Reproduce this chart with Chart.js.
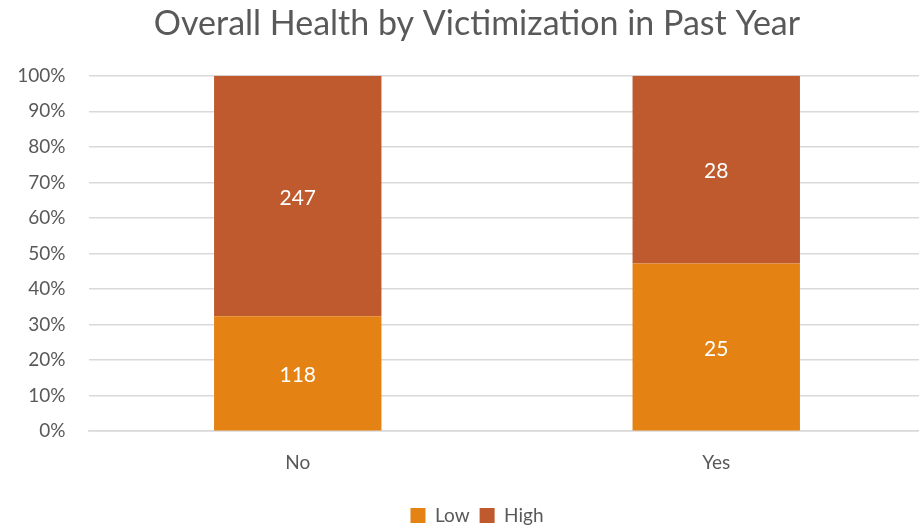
<!DOCTYPE html>
<html>
<head>
<meta charset="utf-8">
<script src="https://cdn.jsdelivr.net/npm/chart.js@4"></script>
<style>
  html, body { margin: 0; padding: 0; background: #fff; overflow: hidden; }
  #wrap { width: 919px; height: 527px; overflow: hidden; }
</style>
</head>
<body>
<div id="wrap"><canvas id="chart" width="954" height="537"></canvas></div>
<script>
const categories = ["No", "Yes"];
const lowCounts = [118, 25];
const highCounts = [247, 28];
const seriesNames = ["Low", "High"];
const seriesColors = ["#E48314", "#BE5A2D"];

const totals = categories.map((c, i) => lowCounts[i] + highCounts[i]);
const counts = [lowCounts, highCounts];
const FONT = "Lato, 'Open Sans', sans-serif";

// draws the count in the middle of each segment
const barLabels = {
  id: "barLabels",
  afterDatasetsDraw(chart) {
    const ctx = chart.ctx;
    ctx.save();
    ctx.fillStyle = "#ffffff";
    ctx.font = "21px " + FONT;
    ctx.textAlign = "center";
    ctx.textBaseline = "middle";
    chart.data.datasets.forEach((ds, d) => {
      chart.getDatasetMeta(d).data.forEach((bar, i) => {
        const mid = (bar.y + bar.base) / 2;
        ctx.fillText(String(counts[d][i]), bar.x, mid + 2);
      });
    });
    ctx.restore();
  }
};

new Chart(document.getElementById("chart"), {
  type: "bar",
  data: {
    labels: categories,
    datasets: counts.map((arr, d) => ({
      label: seriesNames[d],
      data: arr.map((v, i) => v / totals[i]),
      backgroundColor: seriesColors[d],
      borderWidth: 0,
      categoryPercentage: 1,
      barPercentage: 0.4
    }))
  },
  plugins: [barLabels],
  options: {
    responsive: false,
    animation: false,
    events: [],
    layout: { padding: { left: 28.5, right: 28.5, top: 4, bottom: 2 } },
    plugins: {
      title: {
        display: true,
        text: "Overall Health by Victimization in Past Year",
        color: "#595959",
        font: { family: FONT, size: 34, weight: "normal" },
        padding: { top: 0, bottom: 31 }
      },
      legend: {
        position: "bottom",
        labels: {
          color: "#595959",
          font: { family: FONT, size: 19 },
          boxWidth: 15,
          boxHeight: 15,
          padding: 10
        }
      },
      tooltip: { enabled: false }
    },
    scales: {
      x: {
        stacked: true,
        grid: { display: false },
        border: { color: "#d9d9d9", width: 1.5 },
        ticks: {
          color: "#595959",
          font: { family: FONT, size: 19 },
          padding: 12
        },
        afterFit: (scale) => { scale.height += 10; }
      },
      y: {
        stacked: true,
        min: 0,
        max: 1,
        border: { display: false },
        grid: { color: "#d9d9d9", lineWidth: 1.5, drawTicks: false },
        ticks: {
          stepSize: 0.1,
          color: "#595959",
          font: { family: FONT, size: 19 },
          padding: 23,
          callback: (v) => Math.round(v * 100) + "%"
        },
        afterFit: (scale) => {
          scale.width = 60;
          // labels stick out past the narrowed axis box, so don't clip them
          scale._computeLabelArea = () => null;
        }
      }
    }
  }
});
</script>
</body>
</html>
